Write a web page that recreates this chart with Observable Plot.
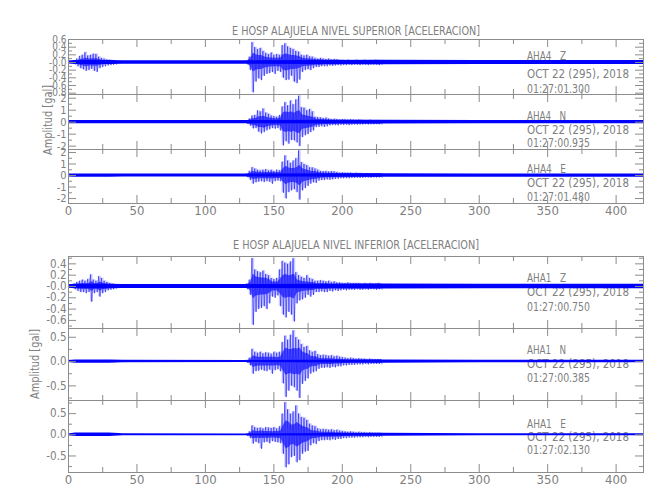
<!DOCTYPE html>
<html><head><meta charset="utf-8">
<script src="https://cdn.jsdelivr.net/npm/d3@7"></script>
<script src="https://cdn.jsdelivr.net/npm/@observablehq/plot@0.6"></script>
<style>
body{margin:0;background:#fff;}
#chart{position:relative;width:650px;height:500px;overflow:hidden;}
#chart svg{position:absolute;left:0;}
</style></head><body><div id="chart"></div>
<script>
// ---------- DATA ----------
// strong-motion section: bin start times (s); each bin gives its max (hi), min (lo)
// and the half-width of the dense dark core (c)
const tBurst = [130,132,134,136,138,140,142,144,146,148,150,152,154,156,158,160,162,164,166,168,
  170,172,174,176,178,180,182,184,186,188,190,192,194,196,198,200,202,204,206,208,
  210,212,214,216,218,220,222,224,226,228];
// early (first event) section for the Z components
const tEarly = [4,6,8,10,12,14,16,18,20,22,24,26,28,30,32,34];
// background-noise envelope breakpoints (s)
const noiseT = [0,5,30,40,130,230,300,420];

// ---- AHA4 (upper level) ----
const hiZ4 = [0.05,0.15,0.53,0.40,0.35,0.38,0.30,0.25,0.22,0.26,0.20,0.22,0.20,0.45,0.50,0.42,0.38,0.35,0.30,0.28,
  0.20,0.18,0.20,0.16,0.15,0.12,0.10,0.12,0.10,0.09,0.10,0.08,0.09,0.08,0.07,0.07,0.06,0.07,0.06,0.06,
  0.07,0.06,0.06,0.07,0.06,0.06,0.06,0.07,0.06,0.06];
const loZ4 = [-0.05,-0.20,-0.78,-0.50,-0.42,-0.46,-0.35,-0.30,-0.28,-0.25,-0.30,-0.22,-0.25,-0.40,-0.46,-0.45,-0.35,-0.50,-0.54,-0.45,
  -0.25,-0.20,-0.18,-0.20,-0.15,-0.12,-0.12,-0.10,-0.10,-0.10,-0.08,-0.09,-0.08,-0.07,-0.08,-0.07,-0.07,-0.06,-0.07,-0.06,
  -0.06,-0.07,-0.06,-0.06,-0.07,-0.06,-0.06,-0.06,-0.07,-0.06];
const cZ4 = [0.05,0.10,0.25,0.20,0.18,0.18,0.15,0.13,0.12,0.12,0.11,0.11,0.12,0.20,0.22,0.20,0.18,0.18,0.17,0.15,
  0.11,0.10,0.10,0.09,0.08,0.07,0.07,0.07,0.06,0.06,0.06,0.06,0.06,0.06,0.055,0.055,0.05,0.05,0.05,0.05,
  0.05,0.05,0.05,0.05,0.05,0.05,0.05,0.05,0.05,0.05];
const hiZ4e = [0.05,0.10,0.17,0.20,0.27,0.18,0.20,0.23,0.22,0.15,0.12,0.10,0.08,0.07,0.06,0.05];
const loZ4e = [-0.05,-0.10,-0.15,-0.18,-0.22,-0.20,-0.17,-0.22,-0.25,-0.15,-0.12,-0.10,-0.08,-0.07,-0.06,-0.05];
const cZ4e = [0.04,0.05,0.08,0.09,0.11,0.09,0.09,0.10,0.10,0.07,0.06,0.05,0.045,0.04,0.04,0.04];
const nZ4 = [0.04,0.05,0.05,0.045,0.045,0.06,0.055,0.055];

const hiN4 = [0.15,0.30,0.55,0.60,0.97,0.90,1.14,0.80,0.70,0.55,0.50,0.45,0.60,1.30,1.67,1.40,1.80,1.50,1.90,2.20,
  1.25,1.20,1.00,1.10,0.90,0.45,0.42,0.40,0.35,0.38,0.30,0.25,0.28,0.25,0.22,0.25,0.24,0.22,0.25,0.22,
  0.20,0.22,0.20,0.18,0.18,0.20,0.17,0.18,0.17,0.18];
const loN4 = [-0.15,-0.30,-0.53,-0.50,-0.80,-0.95,-0.83,-0.70,-0.60,-0.50,-0.55,-0.50,-0.70,-1.94,-1.60,-1.80,-1.50,-1.53,-1.70,-2.00,
  -1.25,-1.10,-1.00,-0.83,-0.70,-0.42,-0.40,-0.35,-0.40,-0.35,-0.28,-0.25,-0.25,-0.27,-0.22,-0.24,-0.22,-0.25,-0.22,-0.20,
  -0.22,-0.20,-0.20,-0.18,-0.20,-0.18,-0.18,-0.17,-0.18,-0.17];
const cN4 = [0.14,0.20,0.30,0.30,0.45,0.45,0.50,0.40,0.35,0.30,0.28,0.28,0.35,0.80,0.85,0.80,0.85,0.75,0.90,0.95,
  0.60,0.55,0.50,0.45,0.40,0.25,0.24,0.22,0.20,0.20,0.18,0.17,0.17,0.16,0.16,0.16,0.15,0.15,0.15,0.15,
  0.15,0.15,0.15,0.15,0.15,0.15,0.15,0.15,0.15,0.15];
const nN4 = [0.13,0.14,0.14,0.13,0.13,0.16,0.14,0.14];

const hiE4 = [0.15,0.40,0.72,0.60,0.50,0.45,0.50,0.55,0.45,0.50,0.40,0.50,0.45,1.20,1.74,1.30,1.10,1.30,1.50,2.17,
  1.16,1.00,0.90,0.72,0.70,0.60,0.50,0.40,0.38,0.40,0.35,0.38,0.35,0.30,0.25,0.27,0.25,0.24,0.25,0.22,
  0.24,0.22,0.20,0.18,0.20,0.18,0.18,0.17,0.18,0.17];
const loE4 = [-0.15,-0.40,-0.72,-0.60,-0.55,-0.50,-0.58,-0.50,-0.55,-0.72,-0.50,-0.45,-0.50,-1.50,-2.00,-1.45,-1.30,-1.20,-1.45,-2.10,
  -1.30,-1.10,-0.90,-0.72,-0.60,-0.65,-0.45,-0.40,-0.40,-0.35,-0.38,-0.35,-0.30,-0.28,-0.25,-0.25,-0.24,-0.25,-0.22,-0.22,
  -0.20,-0.22,-0.20,-0.18,-0.18,-0.20,-0.17,-0.18,-0.17,-0.17];
const cE4 = [0.14,0.22,0.35,0.30,0.28,0.26,0.28,0.27,0.27,0.30,0.25,0.26,0.25,0.60,0.80,0.65,0.60,0.60,0.70,0.90,
  0.60,0.50,0.45,0.38,0.35,0.32,0.26,0.22,0.21,0.20,0.20,0.20,0.18,0.17,0.16,0.15,0.15,0.15,0.15,0.15,
  0.15,0.15,0.15,0.15,0.15,0.15,0.15,0.15,0.15,0.15];
const nE4 = [0.13,0.14,0.14,0.13,0.13,0.16,0.14,0.14];

// ---- AHA1 (lower level) ----
const hiZ1 = [0.05,0.12,0.50,0.30,0.27,0.25,0.28,0.22,0.20,0.15,0.13,0.15,0.30,0.45,0.42,0.40,0.44,0.50,0.25,0.20,
  0.17,0.15,0.20,0.15,0.13,0.10,0.10,0.11,0.10,0.09,0.10,0.08,0.09,0.07,0.07,0.06,0.06,0.07,0.06,0.06,
  0.06,0.06,0.05,0.06,0.05,0.06,0.05,0.05,0.06,0.05];
const loZ1 = [-0.05,-0.15,-0.68,-0.45,-0.40,-0.38,-0.35,-0.40,-0.30,-0.18,-0.20,-0.16,-0.35,-0.50,-0.55,-0.45,-0.50,-0.62,-0.30,-0.25,
  -0.23,-0.20,-0.15,-0.18,-0.15,-0.10,-0.10,-0.09,-0.10,-0.10,-0.08,-0.09,-0.07,-0.08,-0.07,-0.06,-0.07,-0.06,-0.06,-0.06,
  -0.05,-0.06,-0.06,-0.05,-0.06,-0.05,-0.05,-0.06,-0.05,-0.05];
const cZ1 = [0.04,0.07,0.22,0.17,0.16,0.15,0.15,0.14,0.12,0.08,0.08,0.08,0.14,0.20,0.21,0.19,0.20,0.22,0.12,0.10,
  0.09,0.08,0.08,0.07,0.07,0.05,0.05,0.05,0.05,0.05,0.04,0.04,0.04,0.04,0.04,0.04,0.04,0.04,0.04,0.04,
  0.04,0.04,0.04,0.04,0.04,0.04,0.04,0.04,0.04,0.04];
const hiZ1e = [0.05,0.08,0.10,0.12,0.10,0.13,0.21,0.12,0.10,0.18,0.15,0.10,0.08,0.06,0.05,0.04];
const loZ1e = [-0.05,-0.08,-0.10,-0.10,-0.12,-0.10,-0.27,-0.12,-0.10,-0.18,-0.12,-0.10,-0.07,-0.06,-0.05,-0.04];
const cZ1e = [0.03,0.04,0.05,0.05,0.05,0.05,0.09,0.05,0.05,0.08,0.06,0.05,0.04,0.035,0.035,0.035];
const nZ1 = [0.03,0.04,0.04,0.035,0.035,0.045,0.04,0.04];

const hiN1 = [0.03,0.08,0.26,0.20,0.18,0.20,0.17,0.19,0.18,0.16,0.20,0.18,0.20,0.40,0.53,0.45,0.55,0.64,0.50,0.45,
  0.36,0.30,0.32,0.23,0.20,0.22,0.15,0.13,0.14,0.13,0.12,0.13,0.11,0.12,0.10,0.09,0.08,0.07,0.08,0.07,
  0.06,0.07,0.06,0.06,0.05,0.06,0.05,0.05,0.05,0.05];
const loN1 = [-0.03,-0.08,-0.25,-0.20,-0.19,-0.17,-0.19,-0.20,-0.17,-0.25,-0.18,-0.16,-0.20,-0.45,-0.73,-0.60,-0.50,-0.53,-0.60,-0.75,
  -0.46,-0.40,-0.35,-0.25,-0.22,-0.20,-0.15,-0.13,-0.13,-0.12,-0.13,-0.11,-0.12,-0.10,-0.10,-0.08,-0.08,-0.07,-0.07,-0.07,
  -0.06,-0.06,-0.06,-0.05,-0.06,-0.05,-0.05,-0.05,-0.05,-0.05];
const cN1 = [0.02,0.04,0.12,0.10,0.09,0.09,0.09,0.09,0.09,0.09,0.09,0.08,0.10,0.20,0.28,0.25,0.25,0.27,0.26,0.28,
  0.20,0.17,0.16,0.11,0.10,0.10,0.07,0.06,0.06,0.06,0.06,0.06,0.05,0.05,0.05,0.04,0.04,0.035,0.035,0.03,
  0.03,0.03,0.03,0.03,0.03,0.03,0.03,0.03,0.03,0.03];
const nN1 = [0.02,0.035,0.035,0.025,0.02,0.035,0.025,0.025];

const hiE1 = [0.03,0.08,0.22,0.18,0.16,0.17,0.15,0.18,0.17,0.16,0.18,0.15,0.20,0.50,0.77,0.60,0.50,0.55,0.69,0.50,
  0.42,0.40,0.35,0.26,0.22,0.20,0.15,0.13,0.14,0.13,0.12,0.13,0.11,0.12,0.10,0.09,0.08,0.07,0.08,0.07,
  0.06,0.07,0.06,0.06,0.05,0.06,0.05,0.05,0.05,0.05];
const loE1 = [-0.03,-0.08,-0.21,-0.17,-0.20,-0.33,-0.18,-0.17,-0.20,-0.15,-0.17,-0.18,-0.20,-0.45,-0.77,-0.70,-0.53,-0.50,-0.65,-0.60,
  -0.45,-0.40,-0.38,-0.25,-0.20,-0.22,-0.15,-0.13,-0.13,-0.12,-0.13,-0.11,-0.12,-0.10,-0.10,-0.08,-0.08,-0.07,-0.07,-0.07,
  -0.06,-0.06,-0.06,-0.05,-0.06,-0.05,-0.05,-0.05,-0.05,-0.05];
const cE1 = [0.02,0.04,0.10,0.08,0.08,0.09,0.08,0.08,0.08,0.07,0.08,0.08,0.09,0.22,0.33,0.30,0.23,0.24,0.29,0.25,
  0.20,0.18,0.16,0.11,0.09,0.09,0.07,0.06,0.06,0.06,0.06,0.06,0.05,0.05,0.05,0.04,0.04,0.035,0.035,0.03,
  0.03,0.03,0.03,0.03,0.03,0.03,0.03,0.03,0.03,0.03];
const nE1 = [0.02,0.04,0.04,0.025,0.02,0.035,0.025,0.025];

// ---- ticks & labels ----
const xMajor = [0,50,100,150,200,250,300,350,400];
const xMinor = [25,75,125,175,225,275,325,375];
const xLabels = ["0","50","100","150","200","250","300","350","400"];
const yTZ4 = [0.6,0.4,0.2,0,-0.2,-0.4,-0.6,-0.8];
const yLZ4 = ["0.6","0.4","0.2","-0.0","-0.2","-0.4","-0.6","-0.8"];
const yMZ4 = [0.5,0.3,0.1,-0.1,-0.3,-0.5,-0.7];
const yTNE4 = [2,1,0,-1,-2];
const yLNE4 = ["2","1","0","-1","-2"];
const yMNE4 = [1.5,0.5,-0.5,-1.5];
const yTZ1 = [0.4,0.2,0,-0.2,-0.4,-0.6];
const yLZ1 = ["0.4","0.2","-0.0","-0.2","-0.4","-0.6"];
const yMZ1 = [0.5,0.3,0.1,-0.1,-0.3,-0.5,-0.7];
const yTNE1 = [0.5,0,-0.5];
const yLNE1 = ["0.5","0.0","-0.5"];
const yMN1 = [0.25,-0.25,-0.75];
const yME1 = [0.75,0.25,-0.25,-0.75];

const titles = ["E HOSP ALAJUELA NIVEL SUPERIOR [ACELERACION]", "E HOSP ALAJUELA NIVEL INFERIOR [ACELERACION]"];
const yTitle = "Amplitud [gal]";
const stations = ["AHA4   Z","AHA4   N","AHA4   E","AHA1   Z","AHA1   N","AHA1   E"];
const dates = ["OCT 22 (295), 2018","OCT 22 (295), 2018","OCT 22 (295), 2018","OCT 22 (295), 2018","OCT 22 (295), 2018","OCT 22 (295), 2018"];
const starts = ["01:27:01.300","01:27:00.935","01:27:01.480","01:27:00.750","01:27:00.385","01:27:02.130"];

// ---------- LAYOUT / STYLE ----------
const W = 650, ML = 68, MR = 7;
const BLUE = "#0000ff", FRAME = "#8c8c8c", TXT = "#808080";
const FONT = '"Liberation Sans Narrow","DejaVu Sans Condensed","Roboto Condensed",sans-serif';

const panels = [
  {top:39,  h:55, dom:[-0.835,0.6], hi:hiZ4, lo:loZ4, c:cZ4, ehi:hiZ4e, elo:loZ4e, ec:cZ4e, noise:nZ4, yt:yTZ4, yl:yLZ4, ym:yMZ4, fs:10, bottom:false},
  {top:94,  h:55, dom:[-2.28,2.31], hi:hiN4, lo:loN4, c:cN4, noise:nN4, yt:yTNE4, yl:yLNE4, ym:yMNE4, fs:11, bottom:false},
  {top:149, h:54, dom:[-2.43,2.26], hi:hiE4, lo:loE4, c:cE4, noise:nE4, yt:yTNE4, yl:yLNE4, ym:yMNE4, fs:11, bottom:true},
  {top:256, h:72, dom:[-0.743,0.53], hi:hiZ1, lo:loZ1, c:cZ1, ehi:hiZ1e, elo:loZ1e, ec:cZ1e, noise:nZ1, yt:yTZ1, yl:yLZ1, ym:yMZ1, fs:11.5, bottom:false},
  {top:328, h:72, dom:[-0.80,0.68], hi:hiN1, lo:loN1, c:cN1, noise:nN1, yt:yTNE1, yl:yLNE1, ym:yMN1, fs:11.5, bottom:false},
  {top:400, h:72, dom:[-0.89,0.81], hi:hiE1, lo:loE1, c:cE1, noise:nE1, yt:yTNE1, yl:yLNE1, ym:yME1, fs:11.5, bottom:true},
];

const chart = document.getElementById("chart");

// text overlay (drawn beneath the traces)
const ov = d3.create("svg").attr("width", W).attr("height", 500)
  .style("top", "0px").style("font-family", FONT).attr("fill", TXT);
function txt(x, y, s, size, anchor, len) {
  const t = ov.append("text").attr("x", x).attr("y", y).attr("font-size", size)
    .attr("text-anchor", anchor).attr("dominant-baseline", "central")
    .style("white-space", "pre").attr("xml:space", "preserve").text(s);
  if (len) t.attr("textLength", len).attr("lengthAdjust", "spacingAndGlyphs");
  return t;
}
txt(356, 30, titles[0], 13, "middle", 248);
txt(356, 244, titles[1], 13, "middle", 246);
txt(0, 0, yTitle, 12.5, "middle", 70).attr("transform", "translate(47,120) rotate(-90)");
txt(0, 0, yTitle, 12.5, "middle", 70).attr("transform", "translate(34,364) rotate(-90)");
const stY = [[56,74,89],[116,130,143],[169,183,197],[278,292,307],[350,364,378],[424,437,450]];
stations.forEach((s, i) => {
  txt(527, stY[i][0], s, 12, "start", 39);
  txt(527, stY[i][1], dates[i], 12, "start", 102);
  txt(527, stY[i][2], starts[i], 12, "start", 63);
});
chart.appendChild(ov.node());

function zigzag(ts, hi, lo) {
  const out = [];
  ts.forEach((t, i) => { out.push({t, v: hi[i]}); out.push({t: t + 1, v: lo[i]}); });
  return out;
}
function bins(ts, hi, lo, c) {
  return ts.map((t, i) => ({t, hi: hi[i], lo: lo[i], c: c[i]}));
}

function traceMarks(ts, hi, lo, c) {
  const b = bins(ts, hi, lo, c);
  return [
    Plot.areaY(b, {x: "t", y1: "lo", y2: "hi", curve: "step-after", fill: BLUE, fillOpacity: 0.2}),
    Plot.lineY(zigzag(ts, hi, lo), {x: "t", y: "v", stroke: BLUE, strokeWidth: 0.6, strokeOpacity: 0.8}),
    Plot.areaY(b, {x: d => d.t + 1, y1: d => -d.c, y2: d => d.c, fill: BLUE, fillOpacity: 0.6})
  ];
}

panels.forEach(p => {
  const mt = 8, mb = p.bottom ? 24 : 8;
  const fw = W - ML - MR;
  const noise = noiseT.map((t, i) => ({t, a: p.noise[i]}));
  const ylab = new Map(p.yt.map((v, i) => [v, p.yl[i]]));
  const xlab = new Map(xMajor.map((v, i) => [v, xLabels[i]]));
  const marks = [
    Plot.areaY(noise, {x: "t", y1: d => -d.a, y2: d => d.a, fill: BLUE}),
    ...traceMarks(tBurst, p.hi, p.lo, p.c)
  ];
  if (p.ehi) marks.push(...traceMarks(tEarly, p.ehi, p.elo, p.ec));
  marks.push(
    Plot.frame({stroke: FRAME}),
    Plot.tickY(p.yt, {y: d => d, stroke: FRAME, insetRight: fw - 8}),
    Plot.tickY(p.ym, {y: d => d, stroke: FRAME, insetRight: fw - 4}),
    Plot.tickY(p.yt, {y: d => d, stroke: FRAME, insetLeft: fw - 8}),
    Plot.tickY(p.ym, {y: d => d, stroke: FRAME, insetLeft: fw - 4}),
    Plot.tickX(xMajor, {x: d => d, stroke: FRAME, insetBottom: p.h - 8}),
    Plot.tickX(xMinor, {x: d => d, stroke: FRAME, insetBottom: p.h - 5}),
    Plot.tickX(xMajor, {x: d => d, stroke: FRAME, insetTop: p.h - 8}),
    Plot.tickX(xMinor, {x: d => d, stroke: FRAME, insetTop: p.h - 5}),
    Plot.axisY(p.yt, {tickSize: 0, tickPadding: 2, tickFormat: d => ylab.get(d), fontSize: p.fs, fill: TXT, label: null})
  );
  if (p.bottom) marks.push(Plot.axisX(xMajor, {tickSize: 0, tickPadding: 2, tickFormat: d => xlab.get(d), fontSize: 13, fill: TXT, label: null}));
  const svg = Plot.plot({
    width: W, height: p.h + mt + mb,
    marginLeft: ML, marginRight: MR, marginTop: mt, marginBottom: mb,
    x: {domain: [0, 420], axis: p.bottom ? undefined : null},
    y: {domain: p.dom},
    style: {fontFamily: FONT, background: "transparent", overflow: "visible", color: TXT},
    marks
  });
  svg.style.top = (p.top - mt) + "px";
  svg.style.position = "absolute";
  chart.appendChild(svg);
});
</script></body></html>
